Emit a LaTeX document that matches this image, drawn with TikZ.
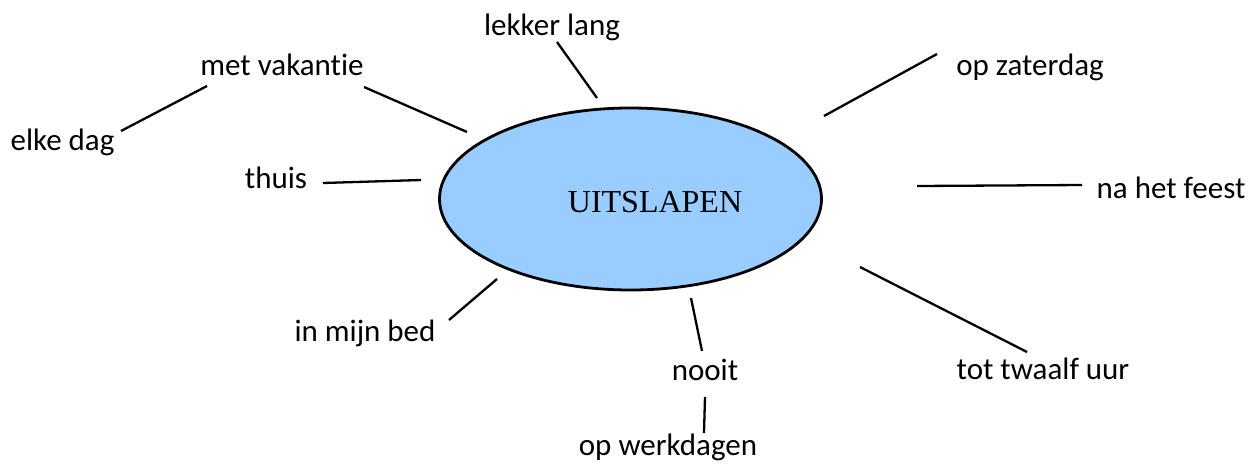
\documentclass[tikz,border=0pt]{standalone}
\usepackage{fontspec}
\setmainfont[RawFeature=-liga]{Carlito}
\newfontfamily\serifface{Liberation Serif}
\definecolor{bubble}{HTML}{99CCFF}
\begin{document}
\begin{tikzpicture}[x=1pt,y=-1pt,
  lbl/.style={anchor=base,inner sep=0pt,font=\fontsize{31}{37}\selectfont},
  link/.style={line width=2.3pt,black}]
\useasboundingbox (0,0) rectangle (1253,464);
% central ellipse
\draw[fill=bubble,line width=2.8pt] (630.5,199) ellipse [x radius=191,y radius=91];
\node[anchor=base,inner sep=0pt,font=\serifface\fontsize{32}{38}\selectfont] (centre) at (655,212) {UITSLAPEN};
% labels
\node[lbl] (lekker) at (552,35) {lekker lang};
\node[lbl] (metvak) at (282,75) {met vakantie};
\node[lbl] (elke) at (62.5,150) {elke dag};
\node[lbl] (thuis) at (276,188) {thuis};
\node[lbl] (bed) at (365,341) {in mijn bed};
\node[lbl] (nooit) at (705,380) {nooit};
\node[lbl] (werk) at (668,455) {op werkdagen};
\node[lbl] (twaalf) at (1043,379) {tot twaalf uur};
\node[lbl] (feest) at (1171,198) {na het feest};
\node[lbl] (zat) at (1030,75) {op zaterdag};
% connector ends
\coordinate (lekA) at (557,42);   \coordinate (lekB) at (597,98);
\coordinate (mvA) at (364,87);    \coordinate (mvB) at (467,132);
\coordinate (edA) at (207,86);    \coordinate (edB) at (121,131);
\coordinate (thA) at (323,183);   \coordinate (thB) at (421,180);
\coordinate (bdA) at (449,320);   \coordinate (bdB) at (497,279);
\coordinate (noA) at (691,298);   \coordinate (noB) at (702,351);
\coordinate (wkA) at (705,397);   \coordinate (wkB) at (704,433);
\coordinate (twA) at (860,267);   \coordinate (twB) at (1027,352);
\coordinate (feA) at (917,186);   \coordinate (feB) at (1082,185);
\coordinate (zaA) at (824,116);   \coordinate (zaB) at (937,54);
% connectors
\draw[link] (lekA) -- (lekB);
\draw[link] (mvA) -- (mvB);
\draw[link] (edA) -- (edB);
\draw[link] (thA) -- (thB);
\draw[link] (bdA) -- (bdB);
\draw[link] (noA) -- (noB);
\draw[link] (wkA) -- (wkB);
\draw[link] (twA) -- (twB);
\draw[link] (feA) -- (feB);
\draw[link] (zaA) -- (zaB);
\end{tikzpicture}
\end{document}
